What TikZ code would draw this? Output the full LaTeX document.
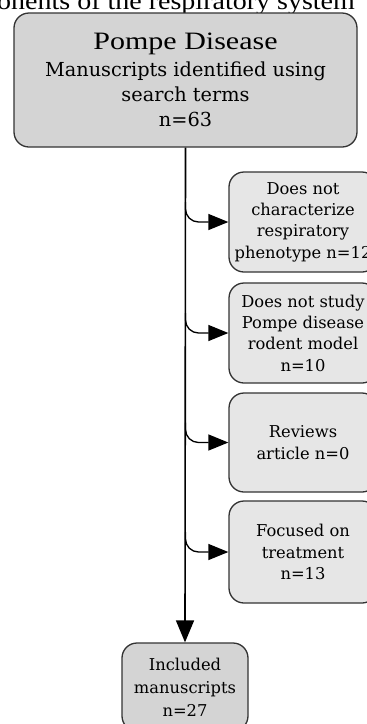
\documentclass[tikz,border=0pt]{standalone}
\usepackage{fontspec}
\usepackage{graphicx}
\setmainfont{Liberation Serif}
\newfontfamily\slab{DejaVu Serif}
\usetikzlibrary{arrows.meta,calc}
\definecolor{boxgray}{HTML}{D4D4D4}
\definecolor{lightgray}{HTML}{E6E6E6}
\definecolor{edgegray}{HTML}{333333}
\begin{document}
\begin{tikzpicture}[x=1pt,y=-1pt,
  mainbox/.style={draw=edgegray,line width=1.3pt,fill=boxgray,rounded corners=15pt,align=center,inner sep=0pt},
  sidebox/.style={draw=edgegray,line width=1.3pt,fill=lightgray,rounded corners=15pt,align=center,inner sep=0pt,
    minimum width=148pt,minimum height=100pt,font=\slab\fontsize{16.3}{21.3}\selectfont},
  flow/.style={line width=1.6pt,-{Triangle[length=20pt,width=16pt]}},
  branch/.style={line width=1.3pt,rounded corners=13pt,-{Triangle[length=20pt,width=16pt]}}]
\useasboundingbox (0,0) rectangle (367,724);
\clip (0,0) rectangle (367,724);
\node[anchor=base west,inner sep=0pt,font=\fontsize{25}{25}\selectfont] (title) at (-3,9.5) {\scalebox{1.12}[1]{onents of the respiratory system}};
\node[mainbox,minimum width=343pt,minimum height=134pt,font=\slab\fontsize{19.3}{25}\selectfont] (top) at (185.5,80)
  {{\rmfamily\fontsize{25}{25}\selectfont\scalebox{1.2}[1]{Pompe Disease}}\\[2pt]
   Manuscripts identified using\\search terms\\n=63};
\node[sidebox] (b1) at (303,222) {Does not\\characterize\\respiratory\\phenotype n=12};
\node[sidebox] (b2) at (303,333) {Does not study\\Pompe disease\\rodent model\\n=10};
\node[sidebox,minimum height=99pt] (b3) at (303,442.5) {Reviews\\article n=0};
\node[sidebox,minimum height=102pt] (b4) at (303,552) {Focused on\\treatment\\n=13};
\node[mainbox,minimum width=126pt,minimum height=88pt,font=\slab\fontsize{16.3}{23}\selectfont] (inc) at (185,687)
  {Included\\manuscripts\\n=27};
\draw[flow,-{Triangle[length=22pt,width=18pt]}] (top.south) -- (inc.north);
\foreach \b in {b1,b2,b3,b4}{
  \draw[branch] ([yshift=20pt]\b.west -| top.south) |- (\b.west);
}
\end{tikzpicture}
\end{document}
